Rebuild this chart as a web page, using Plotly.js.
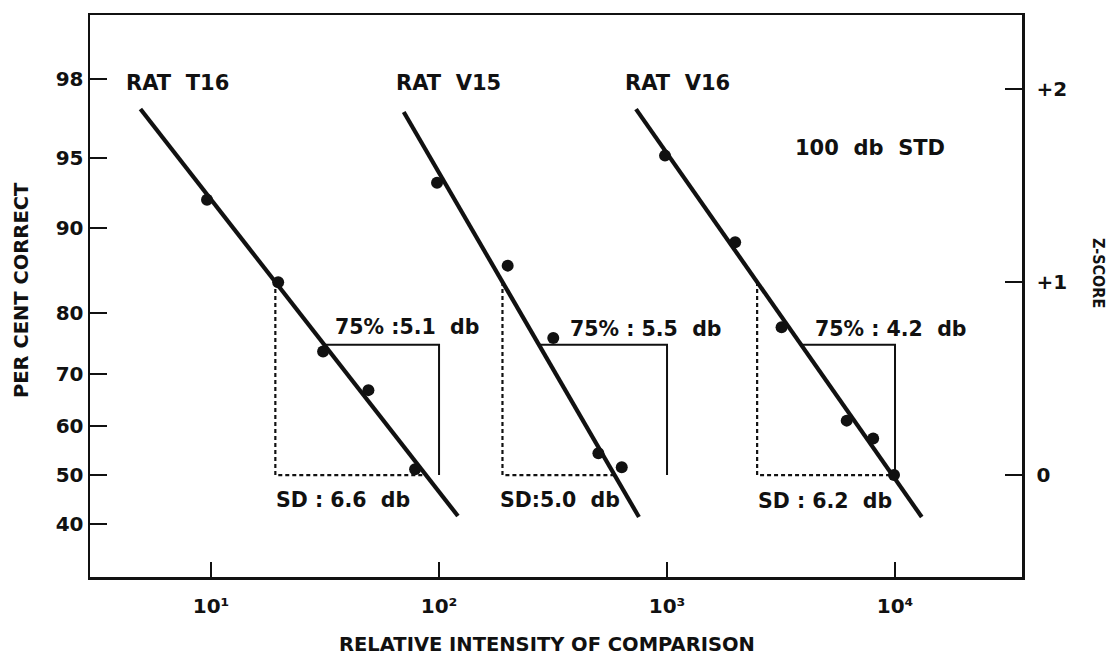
<!DOCTYPE html>
<html>
<head>
<meta charset="utf-8">
<script src="https://cdn.plot.ly/plotly-3.0.1.min.js"></script>
<style>
  html, body { margin: 0; padding: 0; background: #ffffff; }
  #chart { width: 1116px; height: 659px; }
</style>
</head>
<body>
<div id="chart"></div>
<script>
// Observed per cent correct versus relative intensity of the comparison tone
const t16Intensity = [9.6, 19.7, 31, 49, 78.5];
const t16Correct   = [92.3, 84.1, 73.9, 67.0, 51.2];
const v15Intensity = [98, 200, 317, 500, 633];
const v15Correct   = [93.5, 86.1, 76.1, 54.5, 51.6];
const v16Intensity = [980, 1990, 3180, 6140, 8020, 9900];
const v16Correct   = [95.1, 88.6, 77.8, 61.1, 57.5, 50.0];

// Fitted probit lines, given by their end points
const t16FitIntensity = [4.9, 121];
const t16FitCorrect   = [97.1, 41.6];
const v15FitIntensity = [70, 753];
const v15FitCorrect   = [97.0, 41.4];
const v16FitIntensity = [731, 13100];
const v16FitCorrect   = [97.1, 41.4];

// Reference intensity for each rat's threshold bracket
const refIntensity = [100, 1000, 10000];

// Texts
const ratNames = ['RAT  T16', 'RAT  V15', 'RAT  V16'];
const thresholdLabels = ['75% :5.1  db', '75% : 5.5  db', '75% : 4.2  db'];
const sdLabels = ['SD : 6.6  db', 'SD:5.0  db', 'SD : 6.2  db'];
const stdLabel = '100  db  STD';

// Axis ticks
const pctTicks = [40, 50, 60, 70, 80, 90, 95, 98];
const zTicks = [0, 1, 2];
const zTickText = ['0', '+1', '+2'];
const xTicks = [10, 100, 1000, 10000];
const xTickText = ['10\u00B9', '10\u00B2', '10\u00B3', '10\u2074'];

// Inverse of the standard normal CDF (Acklam's rational approximation)
function probit(p) {
  const a = [-3.969683028665376e+01, 2.209460984245205e+02, -2.759285104469687e+02,
             1.383577518672690e+02, -3.066479806614716e+01, 2.506628277459239e+00];
  const b = [-5.447609879822406e+01, 1.615858368580409e+02, -1.556989798598866e+02,
             6.680131188771972e+01, -1.328068155288572e+01];
  const c = [-7.784894002430293e-03, -3.223964580411365e-01, -2.400758277161838e+00,
             -2.549671348283685e+00, 4.374664141464968e+00, 2.938163982698783e+00];
  const d = [7.784695709041462e-03, 3.224671290700398e-01, 2.445134137142996e+00,
             3.754408661907416e+00];
  const pl = 0.02425, ph = 1 - pl;
  let q, r;
  if (p < pl) {
    q = Math.sqrt(-2 * Math.log(p));
    return (((((c[0]*q+c[1])*q+c[2])*q+c[3])*q+c[4])*q+c[5]) / ((((d[0]*q+d[1])*q+d[2])*q+d[3])*q+1);
  }
  if (p > ph) {
    q = Math.sqrt(-2 * Math.log(1 - p));
    return -(((((c[0]*q+c[1])*q+c[2])*q+c[3])*q+c[4])*q+c[5]) / ((((d[0]*q+d[1])*q+d[2])*q+d[3])*q+1);
  }
  q = p - 0.5; r = q * q;
  return (((((a[0]*r+a[1])*r+a[2])*r+a[3])*r+a[4])*r+a[5])*q / (((((b[0]*r+b[1])*r+b[2])*r+b[3])*r+b[4])*r+1);
}
const zOf = pct => probit(pct / 100);

// Intensity where a fitted line reaches a given z-score (linear in log intensity)
function intensityAt(fitI, fitC, zt) {
  const l0 = Math.log10(fitI[0]), l1 = Math.log10(fitI[1]);
  const z0 = zOf(fitC[0]), z1 = zOf(fitC[1]);
  return Math.pow(10, l0 + (zt - z0) * (l1 - l0) / (z1 - z0));
}

const FONT = '"DejaVu Sans", Verdana, sans-serif';
const FONT_NARROW = '"DejaVu Sans Condensed", "DejaVu Sans", sans-serif';
const INK = '#111111';

const rats = [
  { pi: t16Intensity, pc: t16Correct, fi: t16FitIntensity, fc: t16FitCorrect },
  { pi: v15Intensity, pc: v15Correct, fi: v15FitIntensity, fc: v15FitCorrect },
  { pi: v16Intensity, pc: v16Correct, fi: v16FitIntensity, fc: v16FitCorrect }
];

const traces = [];
const z75 = zOf(75);
rats.forEach((r, k) => {
  // dotted guide: +1 z down to 0 z, then across to the fitted line
  const iPlus1 = intensityAt(r.fi, r.fc, 1);
  const iZero = intensityAt(r.fi, r.fc, 0);
  traces.push({
    x: [iPlus1, iPlus1, iZero], y: [1, 0, 0], yaxis: 'y2',
    mode: 'lines', line: { color: INK, width: 2.2, dash: '4px,3px' },
    hoverinfo: 'skip', showlegend: false
  });
  // solid bracket: 75% point across to the reference intensity, down to 50%
  const i75 = intensityAt(r.fi, r.fc, z75);
  traces.push({
    x: [i75, refIntensity[k], refIntensity[k]], y: [z75, z75, zOf(50)],
    mode: 'lines', line: { color: INK, width: 2 },
    hoverinfo: 'skip', showlegend: false
  });
  // fitted line
  traces.push({
    x: r.fi, y: r.fc.map(zOf),
    mode: 'lines', line: { color: INK, width: 4.2 },
    hoverinfo: 'skip', showlegend: false
  });
  // observed points
  traces.push({
    x: r.pi, y: r.pc.map(zOf),
    mode: 'markers', marker: { color: INK, size: 12 },
    showlegend: false
  });
});

// plot area in pixels
const L = 90, R = 94, T = 15, B = 82, W = 1116, H = 659;
const pw = W - L - R, ph = H - T - B;
const px = x => (x - L) / pw;
const py = y => (H - B - y) / ph;

function label(text, x, y, size, extra, family) {
  return Object.assign({
    text: text, xref: 'paper', yref: 'paper', x: px(x), y: py(y),
    xanchor: 'center', yanchor: 'middle', showarrow: false,
    font: { family: family || FONT, size: size, color: INK, weight: 'bold' }
  }, extra || {});
}

const annotations = [
  label(ratNames[0], 177, 83, 21),
  label(ratNames[1], 448, 83, 21),
  label(ratNames[2], 677, 83, 21),
  label(stdLabel, 870, 148, 21),
  label(thresholdLabels[0], 407, 327, 20.5),
  label(thresholdLabels[1], 645, 329, 20.5),
  label(thresholdLabels[2], 890, 329, 20.5),
  label(sdLabels[0], 343, 500, 20.5),
  label(sdLabels[1], 560, 500, 20.5),
  label(sdLabels[2], 825, 501, 20.5),
  label('RELATIVE INTENSITY OF COMPARISON', 547, 644, 19.5),
  label('PER CENT CORRECT', 21, 290, 19.5, { textangle: -90 }),
  label('Z-SCORE', 1099, 273, 16, { textangle: 90 }, FONT_NARROW)
];

const tickFont = { family: FONT, size: 20, color: INK, weight: 'bold' };
const yRange = [-0.528, 2.383];

const layout = {
  width: W, height: H,
  margin: { l: L, r: R, t: T, b: B, pad: 0 },
  paper_bgcolor: '#ffffff', plot_bgcolor: '#ffffff',
  showlegend: false,
  xaxis: {
    type: 'log', range: [0.469, 4.557],
    tickvals: xTicks, ticktext: xTickText,
    ticks: 'inside', ticklen: 15, tickwidth: 2, tickcolor: INK,
    ticklabelstandoff: 9,
    showline: true, linewidth: 2.5, linecolor: INK, mirror: true,
    showgrid: false, zeroline: false, tickfont: tickFont
  },
  yaxis: {
    range: yRange,
    tickvals: pctTicks.map(zOf), ticktext: pctTicks.map(String),
    ticks: 'inside', ticklen: 17, tickwidth: 2, tickcolor: INK,
    showline: true, linewidth: 2.5, linecolor: INK,
    showgrid: false, zeroline: false, tickfont: tickFont
  },
  yaxis2: {
    range: yRange, overlaying: 'y', side: 'right', anchor: 'x',
    tickvals: zTicks, ticktext: zTickText,
    ticks: 'inside', ticklen: 17, tickwidth: 2, tickcolor: INK,
    ticklabelstandoff: 8,
    showline: true, linewidth: 2.5, linecolor: INK,
    showgrid: false, zeroline: false, tickfont: tickFont
  },
  annotations: annotations
};

Plotly.newPlot('chart', traces, layout, { displayModeBar: false, staticPlot: true });
</script>
</body>
</html>
